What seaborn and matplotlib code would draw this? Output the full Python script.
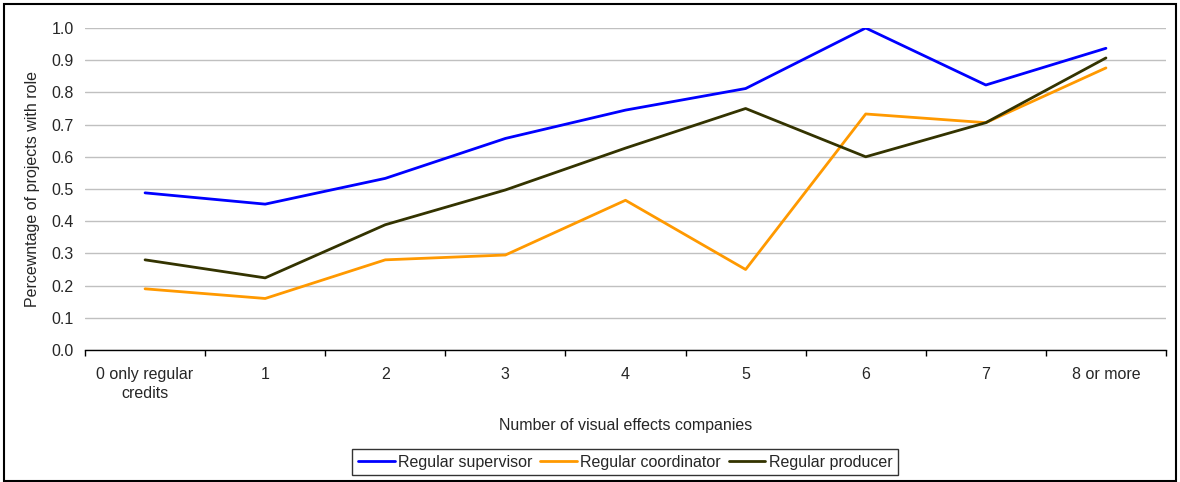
import matplotlib

matplotlib.use("Agg")
import matplotlib.pyplot as plt
import numpy as np
import pandas as pd
import seaborn as sns
from matplotlib.patches import Rectangle


CATEGORIES = ["0 only regular\ncredits", "1", "2", "3", "4", "5", "6", "7", "8 or more"]
SUPERVISOR = [0.488, 0.453, 0.533, 0.657, 0.745, 0.812, 1.0, 0.823, 0.937]
COORDINATOR = [0.190, 0.160, 0.280, 0.295, 0.465, 0.250, 0.733, 0.706, 0.876]
PRODUCER = [0.280, 0.224, 0.389, 0.497, 0.627, 0.750, 0.600, 0.706, 0.907]
SERIES_NAMES = ["Regular supervisor", "Regular coordinator", "Regular producer"]
COLORS = ["#0000FF", "#FF9900", "#333300"]


def build_frame():
    rows = []
    for name, values in zip(SERIES_NAMES, [SUPERVISOR, COORDINATOR, PRODUCER]):
        for i, v in enumerate(values):
            rows.append({"pos": i, "value": v, "series": name})
    return pd.DataFrame(rows)


def main():
    sns.set_style("white")
    plt.rcParams["font.family"] = ["Liberation Sans", "DejaVu Sans"]

    df = build_frame()

    fig = plt.figure(figsize=(11.8, 4.82), dpi=100)
    ax = fig.add_axes([85 / 1180, 1 - 350 / 482, (1166 - 85) / 1180, (350 - 28) / 482])

    sns.lineplot(
        data=df,
        x="pos",
        y="value",
        hue="series",
        palette=COLORS,
        linewidth=2,
        ax=ax,
        legend=True,
    )

    ax.set_xlim(-0.5, len(CATEGORIES) - 0.5)
    ax.set_ylim(0, 1.0)
    ax.set_yticks(np.arange(0, 1.01, 0.1))
    ax.set_yticklabels([f"{t:.1f}" for t in np.arange(0, 1.01, 0.1)], fontsize=11.5)
    ax.set_xticks(range(len(CATEGORIES)))
    ax.set_xticklabels(CATEGORIES, fontsize=11.5, linespacing=1.35)
    ax.set_xticks(np.arange(-0.5, len(CATEGORIES), 1), minor=True)
    ax.tick_params(axis="x", which="major", bottom=False, length=0, pad=12)
    ax.tick_params(axis="x", which="minor", bottom=True, length=4, width=1,
                   color="black", direction="out")
    ax.tick_params(axis="y", left=False, length=0, pad=8)
    ax.grid(axis="y", color="#C0C0C0", linewidth=1)
    ax.set_axisbelow(True)

    for side in ["left", "right", "top"]:
        ax.spines[side].set_visible(False)
    ax.spines["bottom"].set_color("black")
    ax.spines["bottom"].set_linewidth(1)

    ax.set_xlabel("Number of visual effects companies", fontsize=11.5, labelpad=12)
    ax.set_ylabel("Percewntage of projects with role", fontsize=11.5, labelpad=8)

    handles, labels = ax.get_legend_handles_labels()
    ax.legend(
        handles,
        labels,
        loc="center",
        bbox_to_anchor=(625 / 1180, 1 - 462 / 482),
        bbox_transform=fig.transFigure,
        ncol=3,
        frameon=True,
        fancybox=False,
        edgecolor="black",
        fontsize=11.5,
        handlelength=2.3,
        handletextpad=0.2,
        columnspacing=0.5,
        borderpad=0.35,
        borderaxespad=0,
    )
    leg = ax.get_legend()
    leg.get_frame().set_linewidth(1)

    fig.patches.append(
        Rectangle(
            (4 / 1180, 0.002),
            (1176 - 4) / 1180,
            1 - 4 / 482 - 0.002,
            transform=fig.transFigure,
            fill=False,
            edgecolor="black",
            linewidth=1.5,
        )
    )

    fig.savefig("out.png", dpi=100)
    plt.close(fig)


if __name__ == "__main__":
    main()
